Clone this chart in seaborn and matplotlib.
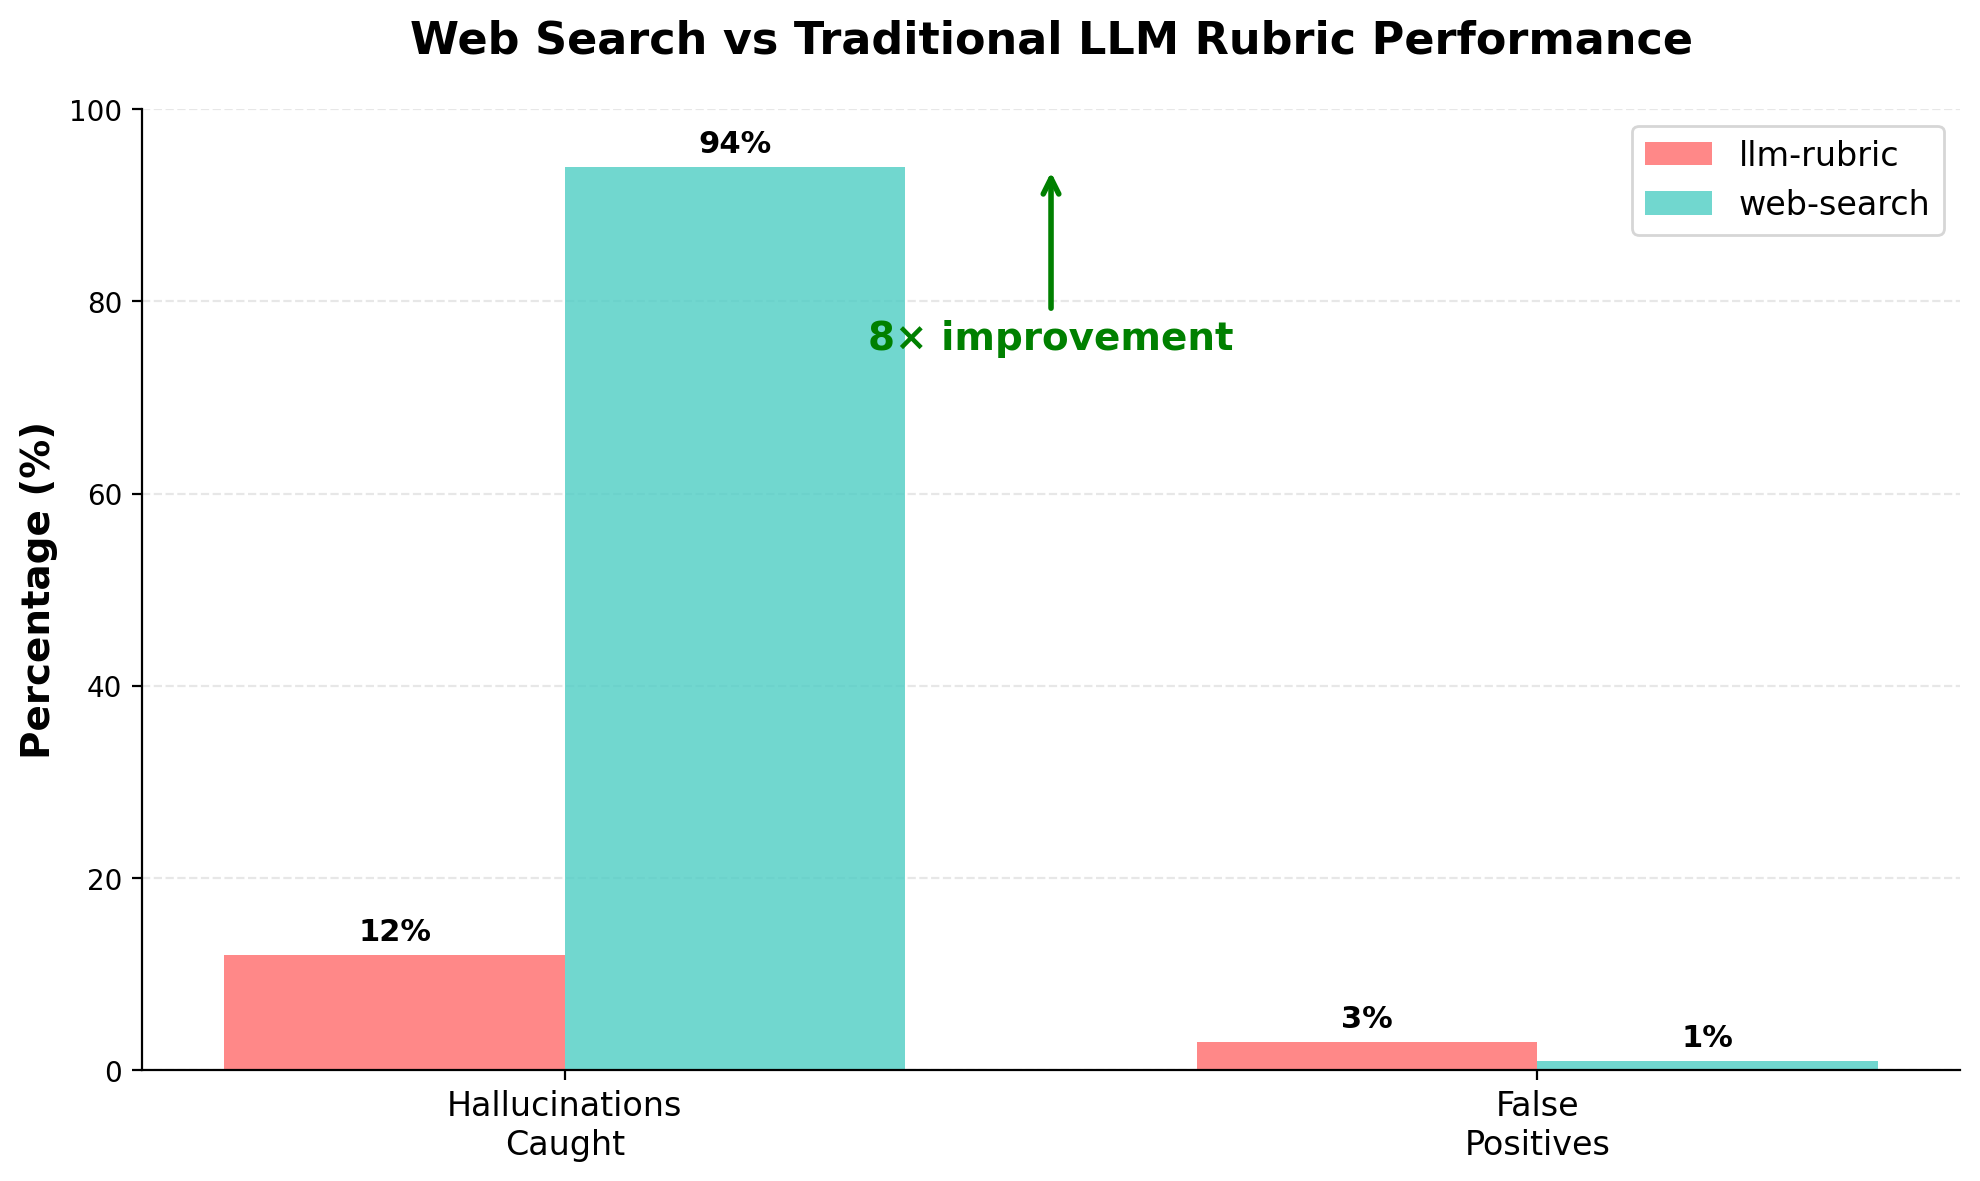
import pandas as pd
import matplotlib.pyplot as plt
import seaborn as sns

# data
metrics = ['Hallucinations\nCaught', 'False\nPositives']
llm_rubric = [12, 3]
web_search = [94, 1]
methods = ['llm-rubric', 'web-search']
colors = ['#FF6B6B', '#4ECDC4']

df = pd.DataFrame({
    'metric': metrics * 2,
    'method': [methods[0]] * 2 + [methods[1]] * 2,
    'value': llm_rubric + web_search,
})

fig, ax = plt.subplots(figsize=(10, 6.03))
sns.barplot(data=df, x='metric', y='value', hue='method', palette=colors,
            width=0.7, saturation=1, alpha=0.8, ax=ax)

# value labels on top of bars
for cont in ax.containers:
    ax.bar_label(cont, fmt='%g%%', padding=3, fontsize=11, fontweight='bold')

# annotation arrow
ax.annotate('8× improvement', xy=(0.5, 94), xytext=(0.5, 75),
            ha='center', fontsize=14, fontweight='bold', color='green',
            arrowprops=dict(arrowstyle='->', color='green', lw=2))

ax.set_xlim(-0.435, 1.435)
ax.set_ylim(0, 100)
ax.set_xlabel('')
ax.set_ylabel('Percentage (%)', fontsize=14, fontweight='bold')
ax.set_title('Web Search vs Traditional LLM Rubric Performance',
             fontsize=16, fontweight='bold', pad=20)
ax.tick_params(axis='x', labelsize=12)
ax.legend(title=None, fontsize=12, loc='upper right')
ax.yaxis.grid(True, linestyle='--', alpha=0.3)
ax.set_axisbelow(True)
ax.spines['top'].set_visible(False)
ax.spines['right'].set_visible(False)

plt.tight_layout()
plt.savefig('out.png', dpi=200, bbox_inches='tight')
